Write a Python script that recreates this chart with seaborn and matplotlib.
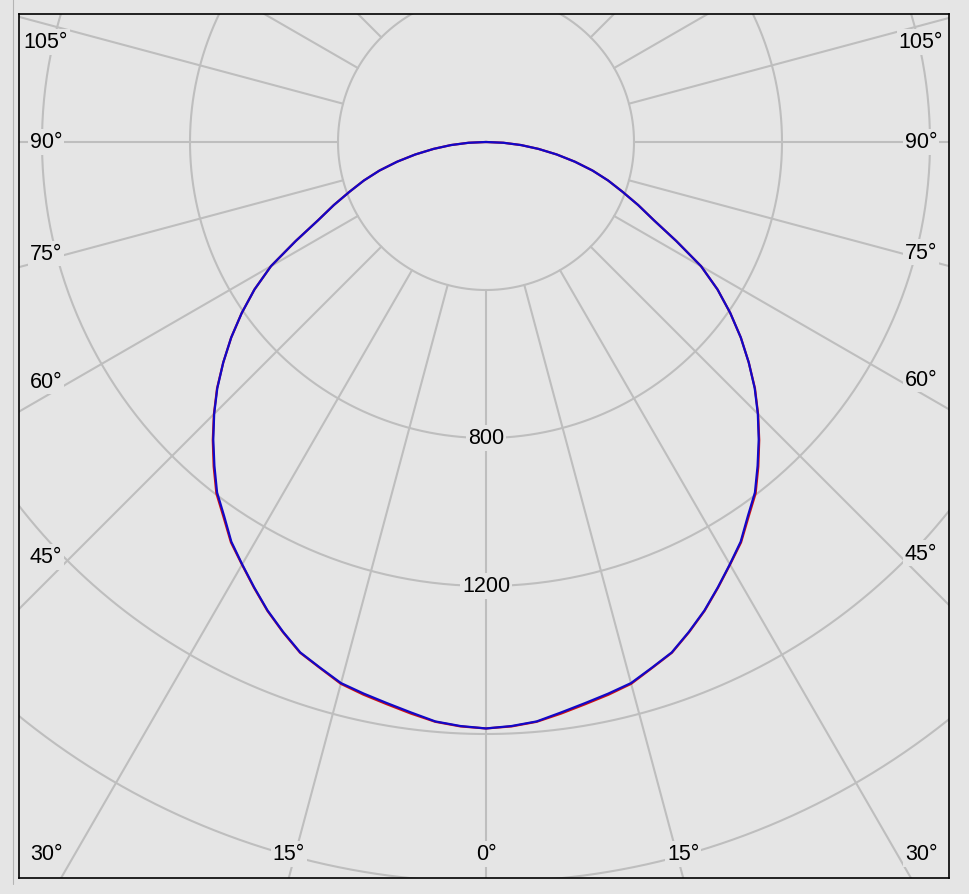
import numpy as np
import pandas as pd
import matplotlib
matplotlib.use("Agg")
import matplotlib.pyplot as plt
from matplotlib.lines import Line2D
import seaborn as sns

# -----------------------------
# Data (luminous intensity, cd)
# -----------------------------
angles = [0, 2.5, 5, 7.5, 10, 12.5, 15, 17.5, 20, 22.5, 25, 27.5, 30, 32.5, 35, 37.5,
          40, 42.5, 45, 47.5, 50, 52.5, 55, 57.5, 60, 62.5, 65, 67.5, 70, 72.5,
          75, 77.5, 80, 82.5, 85, 87.5, 90]
c90_c270 = [1585, 1580, 1572, 1555, 1540, 1527, 1514, 1490, 1468, 1433, 1397, 1357,
            1318, 1281, 1234, 1194, 1142, 1091, 1039, 985, 927, 868, 806, 742, 671,
            580, 501, 445, 392, 346, 298, 246, 194, 143, 95, 47, 0]
c0_c180 = [1585, 1581, 1573, 1558, 1543, 1530, 1516, 1491, 1469, 1434, 1398, 1358,
           1319, 1283, 1237, 1197, 1145, 1093, 1040, 986, 927, 868, 806, 742, 671,
           580, 501, 445, 392, 346, 298, 246, 194, 143, 95, 47, 0]

ring_values = [400, 800, 1200, 1600, 2000, 2400]
ring_labels = [800, 1200]
spoke_angles = list(range(0, 360, 15))
angle_labels = [0, 15, 30, 45, 60, 75, 90, 105]

BG = "#e5e5e5"
GRID = "#bebebe"

# -----------------------------
# Build curve table
# -----------------------------
def plane_points(name, values):
    th = np.radians(angles)
    v = np.array(values, dtype=float)
    left_x = -(v * np.sin(th))[::-1]
    left_y = -(v * np.cos(th))[::-1]
    right_x = (v * np.sin(th))[1:]
    right_y = -(v * np.cos(th))[1:]
    return pd.DataFrame({
        "x": np.concatenate([left_x, right_x]),
        "y": np.concatenate([left_y, right_y]),
        "plane": name,
    })

df = pd.concat([plane_points("C0-C180", c0_c180),
                plane_points("C90-C270", c90_c270)], ignore_index=True)

# -----------------------------
# Figure
# -----------------------------
sns.set_style("white", {"axes.facecolor": BG, "figure.facecolor": BG})
plt.rcParams["font.family"] = ["Liberation Sans", "DejaVu Sans"]
plt.rcParams["text.color"] = "black"

W, H = 969, 895
fig = plt.figure(figsize=(W / 100, H / 100), dpi=100)
fig.patch.set_facecolor(BG)

# axes box in pixels
px_l, px_r, px_t, px_b = 19, 949, 15, 879
cx, cy = 486, 143          # pole position in pixels
scale = 148 / 400          # px per cd

ax = fig.add_axes([px_l / W, (H - px_b) / H, (px_r - px_l) / W, (px_b - px_t) / H])
ax.set_facecolor(BG)
xlim = ((px_l - cx) / scale, (px_r - cx) / scale)
ylim = (-(px_b - cy) / scale, (cy - px_t) / scale)
ax.set_xlim(*xlim)
ax.set_ylim(*ylim)

# rings
t = np.linspace(0, 2 * np.pi, 721)
for r in ring_values:
    ax.plot(r * np.cos(t), r * np.sin(t), color=GRID, lw=1.5, zorder=1)

# spokes, starting at the first ring
r_in, r_out = ring_values[0], 4000
for a in spoke_angles:
    ar = np.radians(a)
    ax.plot([r_in * np.sin(ar), r_out * np.sin(ar)],
            [-r_in * np.cos(ar), -r_out * np.cos(ar)],
            color=GRID, lw=1.5, zorder=1)

# curves
sns.lineplot(data=df, x="x", y="y", hue="plane",
             palette={"C0-C180": "#d01010", "C90-C270": "#1208c8"},
             hue_order=["C0-C180", "C90-C270"],
             sort=False, estimator=None, legend=False, lw=1.6, ax=ax, zorder=3)

box = dict(facecolor=BG, edgecolor="none", pad=1.5)

# ring labels on the 0 degree spoke
for v in ring_labels:
    ax.text(0, -v, str(v), ha="center", va="center", fontsize=15.5,
            color="black", bbox=box, zorder=4)

# angle labels where spokes leave the frame
hit_l = xlim[0] + 52 / scale
hit_r = xlim[1] - 52 / scale
hit_b = ylim[0]
lab_l = xlim[0] + 27 / scale
lab_r = xlim[1] - 28 / scale
lab_b = ylim[0] + 24 / scale
lab_t = ylim[1] - 28 / scale
for a in angle_labels:
    for side in ([1] if a == 0 else [-1, 1]):
        ar = np.radians(a)
        dx, dy = side * np.sin(ar), -np.cos(ar)
        hits = []
        if dx < 0:
            hits.append((hit_l / dx, "l"))
        if dx > 0:
            hits.append((hit_r / dx, "r"))
        if dy < 0:
            hits.append((hit_b / dy, "b"))
        s, edge = min(hits)
        x, y = s * dx, s * dy
        if edge == "l":
            x = lab_l
        elif edge == "r":
            x = lab_r
        else:
            y = lab_b
        x = min(max(x, lab_l), lab_r)
        y = min(max(y, lab_b), lab_t)
        ax.text(x, y, f"{a}°", ha="center", va="center", fontsize=15.5,
                color="black", bbox=box, zorder=4)

ax.set_xticks([])
ax.set_yticks([])
ax.set_xlabel("")
ax.set_ylabel("")
for sp in ax.spines.values():
    sp.set_visible(True)
    sp.set_color("black")
    sp.set_linewidth(1.2)

# thin window divider on the left
fig.add_artist(Line2D([13 / W, 13 / W], [1, (H - 885) / H],
                      transform=fig.transFigure, color="#b4b4b4", lw=0.8))

fig.savefig("out.png", dpi=100, facecolor=BG)
